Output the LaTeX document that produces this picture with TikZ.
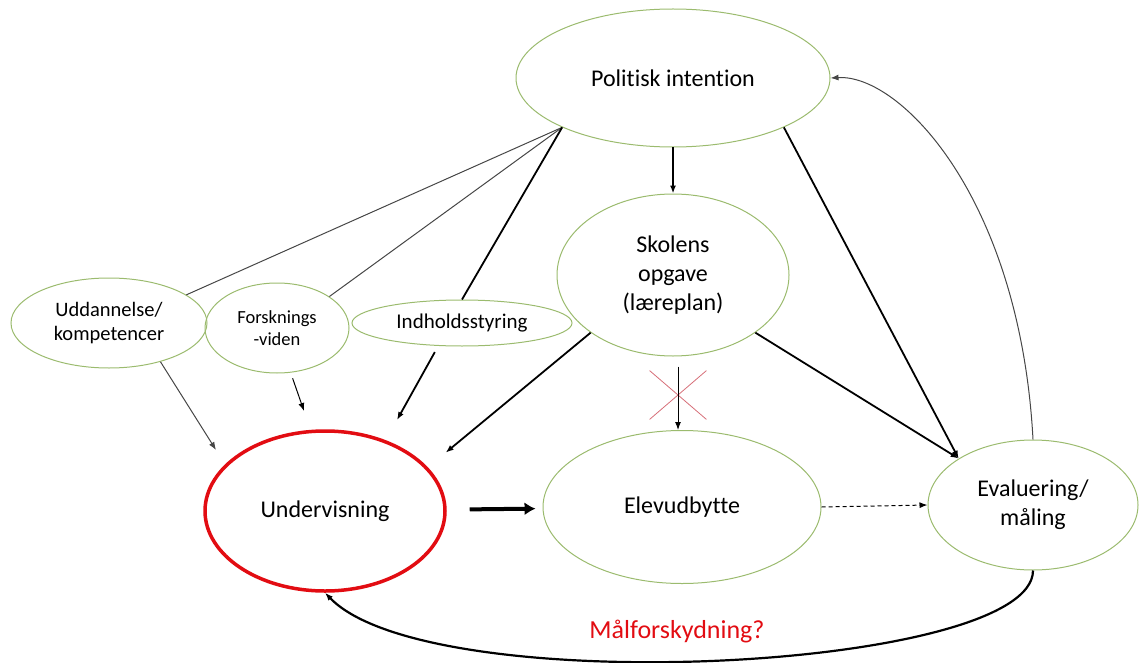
\documentclass[tikz,border=0pt]{standalone}
\usepackage{fontspec}
\setmainfont{Carlito}[Ligatures={NoCommon}]
\usetikzlibrary{arrows.meta}
\usetikzlibrary{shapes.geometric}
\usetikzlibrary{shapes.misc}
\definecolor{ellipse green}{RGB}{155,187,110}
\definecolor{signal red}{RGB}{226,12,18}
\definecolor{cross red}{RGB}{214,110,120}
\definecolor{line grey}{RGB}{70,70,70}

\begin{document}
\begin{tikzpicture}[x=1pt, y=-1pt,
					green ellipse/.style={draw=ellipse green, line width=1pt, ellipse, inner sep=0pt, align=center, font=\fontsize{24}{29}\selectfont},
					red ellipse/.style={green ellipse, draw=signal red, line width=3.5pt},
					small ellipse/.style={green ellipse, font=\fontsize{20.5}{24}\selectfont},
					pil/.style={-{Latex[length=8pt,width=6pt]}, line width=1.8pt},
					tynd pil/.style={pil, line width=1pt},
					linje/.style={line width=1pt, draw=line grey},
				]
					\useasboundingbox (0,0) rectangle (1139,663);

					\node[green ellipse, minimum width=314pt, minimum height=138pt] (pol) at (673,78) {Politisk intention};
					\node[green ellipse, minimum width=232pt, minimum height=162pt] (sko) at (673,275) {Skolens\\opgave\\(læreplan)};
					\node[small ellipse, minimum width=196pt, minimum height=90pt] (udd) at (109,323) {Uddannelse/\\kompetencer};
					\node[small ellipse, font=\fontsize{18.5}{22}\selectfont, minimum width=144pt, minimum height=90pt] (for) at (277,328) {Forsknings\\-viden};
					\node[small ellipse, font=\fontsize{21}{25}\selectfont, minimum width=220pt, minimum height=46pt] (ind) at (462,323) {Indholdsstyring};
					\node[red ellipse, minimum width=240pt, minimum height=160pt] (und) at (325,511) {Undervisning};
					\node[green ellipse, minimum width=278pt, minimum height=153pt] (elev) at (682,507) {Elevudbytte};
					\node[green ellipse, minimum width=210pt, minimum height=130pt] (eval) at (1033,505) {Evaluering/\\måling};
					\node[text=signal red, font=\fontsize{26}{30}\selectfont] (maal) at (677,632) {Målforskydning?};
					\node[cross out, draw=cross red, line width=0.8pt, minimum width=56pt, minimum height=48pt, inner sep=0pt] (kryds) at (678,395) {};

					\coordinate (udd pil) at (216,450);
					\coordinate (for pil) at (304,411);
					\coordinate (ind pil) at (397,420);

					\draw[linje] (pol.-156) -- (udd.20);
					\draw[linje] (pol.-156) -- (for.31);
					\draw[line width=1.8pt] (pol.-156) -- (ind.north);
					\draw[pil, line width=1.5pt] (pol.south) -- (sko.north);
					\draw[pil] (pol.-24) -- (eval.148);
					\draw[pil] (sko.-35) -- (eval.148);
					\draw[pil, shorten >=23pt] (sko.-145) -- (und.23);
					\draw[tynd pil, shorten <=10pt] (kryds |- sko.south) -- (kryds |- elev.north);
					\draw[tynd pil, draw=line grey] (udd.-37) -- (udd pil);
					\draw[tynd pil, shorten <=6pt] (for.-73) -- (for pil);
					\draw[pil, shorten <=7pt] (ind.-136) -- (ind pil);
					\draw[-{Latex[length=11pt,width=13pt]}, line width=4pt, shorten <=23pt, shorten >=7pt] (und) -- (elev);
					\draw[tynd pil, dash pattern=on 4pt off 3pt] (elev.east) -- (eval.west);
					\draw[tynd pil, draw=line grey] (eval.north) .. controls +(-13,-241) and +(70,-4) .. (pol.east);
					\draw[pil, line width=2.2pt] (eval.south) .. controls +(0,100) and +(105,109) .. (und.south);
				\end{tikzpicture}
\end{document}
